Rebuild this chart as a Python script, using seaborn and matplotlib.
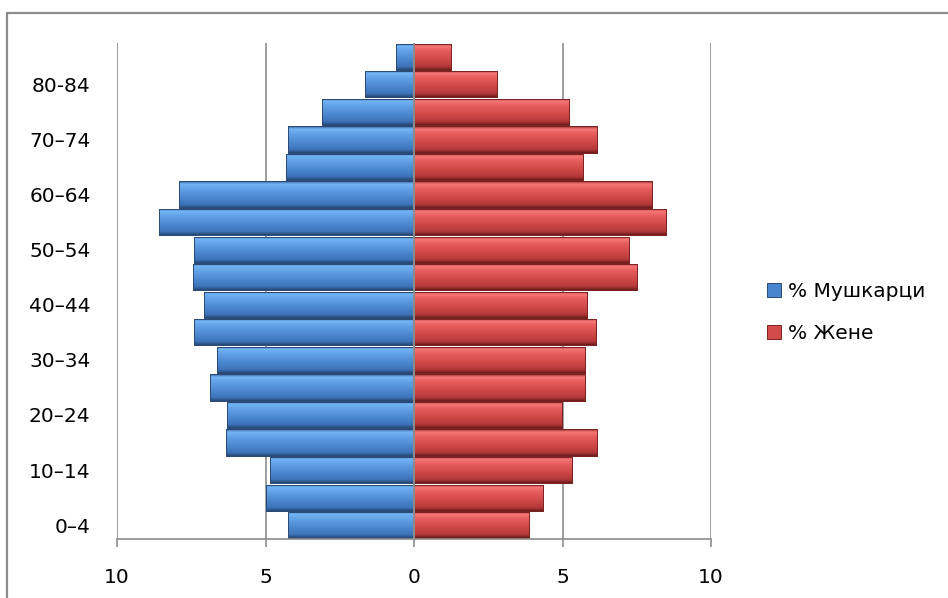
import numpy as np
import pandas as pd
import matplotlib
matplotlib.use("Agg")
import matplotlib.pyplot as plt
import seaborn as sns
from matplotlib.patches import Patch
from matplotlib.lines import Line2D
from matplotlib.colors import LinearSegmentedColormap

# ---------------- data ----------------
age_groups = ["0–4", "5–9", "10–14", "15–19", "20–24", "25–29", "30–34", "35–39",
              "40–44", "45–49", "50–54", "55–59", "60–64", "65–69", "70–74",
              "75–79", "80-84", "85+"]
male_pct = [4.24, 4.99, 4.86, 6.34, 6.30, 6.86, 6.63, 7.40, 7.07, 7.44, 7.40,
            8.58, 7.91, 4.31, 4.24, 3.10, 1.65, 0.61]
female_pct = [3.88, 4.35, 5.31, 6.17, 4.97, 5.75, 5.75, 6.14, 5.82, 7.52, 7.25,
              8.50, 8.02, 5.70, 6.17, 5.23, 2.80, 1.25]
series_names = ["% Мушкарци", "% Жене"]
x_ticks = [-10, -5, 0, 5, 10]
x_tick_labels = ["10", "5", "0", "5", "10"]

df = pd.DataFrame({
    "age": age_groups * 2,
    "value": [-v for v in male_pct] + female_pct,
    "sex": [series_names[0]] * len(age_groups) + [series_names[1]] * len(age_groups),
})

# ---------------- style ----------------
sns.set_theme(style="white")
plt.rcParams["font.family"] = ["DejaVu Sans"]
plt.rcParams["text.color"] = "black"
plt.rcParams["xtick.color"] = "black"
plt.rcParams["ytick.color"] = "black"
plt.rcParams["xtick.labelcolor"] = "black"
plt.rcParams["ytick.labelcolor"] = "black"
FS = 14.5
GRID = "#8c8c8c"
blue_mid = "#4a86cc"
red_mid = "#d14c4a"

fig = plt.figure(figsize=(9.48, 5.98), dpi=100)
ax = fig.add_axes([117 / 948, 1 - 539 / 598, (711 - 117) / 948, (539 - 43) / 598])

sns.barplot(data=df, y="age", x="value", hue="sex", order=age_groups,
            hue_order=series_names, palette=[blue_mid, red_mid], orient="h",
            dodge=False, width=0.95, legend=False, ax=ax,
            edgecolor="#2e4d78", linewidth=0.6)

# gradient (bevel-like) fill for every bar, clipped to the bar patch
blue_cmap = LinearSegmentedColormap.from_list("b", [
    (0.0, (0.20, 0.36, 0.58)), (0.10, (0.45, 0.71, 0.96)),
    (0.30, (0.38, 0.63, 0.90)), (0.65, (0.29, 0.52, 0.80)),
    (0.88, (0.24, 0.45, 0.72)), (1.0, (0.15, 0.28, 0.46))])
red_cmap = LinearSegmentedColormap.from_list("r", [
    (0.0, (0.55, 0.16, 0.16)), (0.10, (0.97, 0.47, 0.47)),
    (0.30, (0.90, 0.36, 0.36)), (0.65, (0.80, 0.27, 0.27)),
    (0.88, (0.70, 0.22, 0.22)), (1.0, (0.42, 0.11, 0.11))])
grad = np.linspace(0, 1, 64).reshape(-1, 1)

bars = [p for p in ax.patches]
for p in bars:
    x0 = p.get_x()
    w = p.get_width()
    y0 = p.get_y()
    h = p.get_height()
    if w == 0:
        continue
    left, right = min(x0, x0 + w), max(x0, x0 + w)
    bottom, top = min(y0, y0 + h), max(y0, y0 + h)
    cmap = blue_cmap if w < 0 else red_cmap
    edge = "#2b4a75" if w < 0 else "#7a2222"
    p.set_edgecolor(edge)
    im = ax.imshow(grad, cmap=cmap, aspect="auto", origin="upper",
                   extent=(left, right, bottom, top), zorder=p.get_zorder() + 0.1,
                   interpolation="bicubic")
    im.set_clip_path(p)
    ax.add_patch(plt.Rectangle((p.get_x(), p.get_y()), p.get_width(), p.get_height(),
                               fill=False, edgecolor=edge, linewidth=0.7,
                               zorder=p.get_zorder() + 0.2))

ax.set_xlim(-10, 10)
ax.set_ylim(-0.5, len(age_groups) - 0.5)

# grid / axes
ax.set_axisbelow(True)
for xv in x_ticks:
    ax.axvline(xv, color=GRID, lw=1.2, zorder=0.5)
ax.axvline(0, color=GRID, lw=1.4, zorder=5)
for s in ["top", "right", "left"]:
    ax.spines[s].set_visible(False)
ax.spines["bottom"].set_color(GRID)
ax.spines["bottom"].set_linewidth(1.2)

ax.set_xticks(x_ticks)
ax.set_xticklabels(x_tick_labels, fontsize=FS, color="black")
ax.tick_params(axis="x", direction="out", length=6, width=1.2, color=GRID, pad=15,
               bottom=True, labelcolor="black")
ytick_pos = list(range(0, len(age_groups), 2))
ax.set_yticks(ytick_pos)
ax.set_yticklabels([age_groups[i] for i in ytick_pos], fontsize=FS, color="black")
ax.tick_params(axis="y", length=0, pad=19, labelcolor="black")
ax.set_xlabel("")
ax.set_ylabel("")
ax.grid(False)

# legend
handles = [Patch(facecolor=blue_mid, edgecolor="#2b4a75", linewidth=0.7),
           Patch(facecolor=red_mid, edgecolor="#7a2222", linewidth=0.7)]
leg = fig.legend(handles, series_names, loc="center left",
                 bbox_to_anchor=(767 / 948, 1 - 312.5 / 598), frameon=False,
                 fontsize=FS, handlelength=0.7, handleheight=0.7, handletextpad=0.35,
                 labelspacing=1.15, borderpad=0, borderaxespad=0)
for t in leg.get_texts():
    t.set_color("black")

# chart-area border (left and top edges visible)
fig.add_artist(Line2D([7 / 948, 7 / 948], [0, 1 - 13 / 598], color=GRID, lw=1.6))
fig.add_artist(Line2D([7 / 948, 1], [1 - 13 / 598, 1 - 13 / 598], color=GRID, lw=1.6))

fig.savefig("out.png", dpi=100)
